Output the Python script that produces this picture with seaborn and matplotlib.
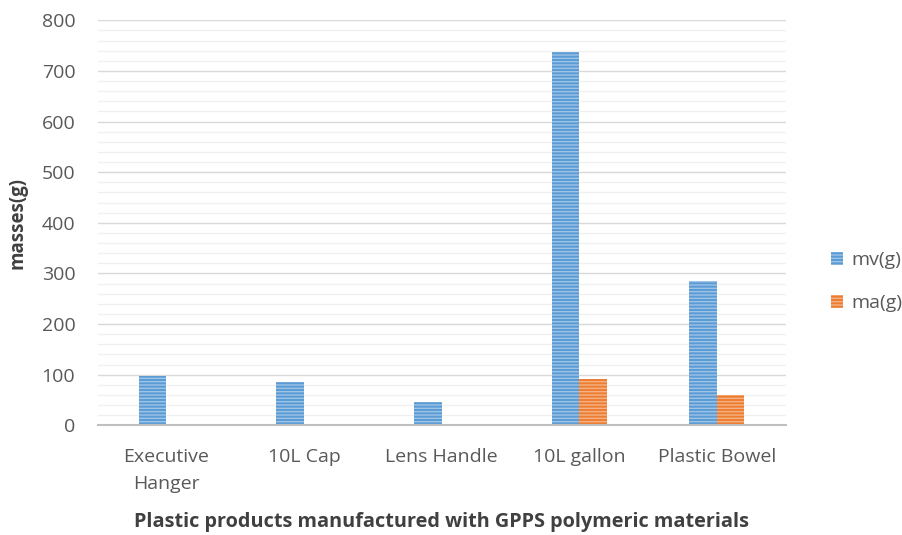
import matplotlib
matplotlib.use("Agg")
import matplotlib.pyplot as plt
import seaborn as sns
import pandas as pd
from matplotlib.ticker import MultipleLocator

# Product categories and measured masses (grams)
products = ["Executive\nHanger", "10L Cap", "Lens Handle", "10L gallon", "Plastic Bowel"]
mv_values = [98, 85, 47, 737, 285]
ma_values = [0, 0, 0, 91, 60]
series_names = ["mv(g)", "ma(g)"]

df = pd.DataFrame({
    "product": products * 2,
    "series": [series_names[0]] * len(products) + [series_names[1]] * len(products),
    "mass": mv_values + ma_values,
})

sns.set_theme(style="white")
plt.rcParams["font.family"] = ["Open Sans", "DejaVu Sans"]
plt.rcParams["hatch.linewidth"] = 1.0

fig, ax = plt.subplots(figsize=(9.03, 5.35), dpi=100)
fig.subplots_adjust(left=0.108, right=0.87, top=0.962, bottom=0.205)

palette = {"mv(g)": "#5B9BD5", "ma(g)": "#ED7D31"}
hatch_colors = {"mv(g)": "#9DC3E6", "ma(g)": "#F4B183"}

sns.barplot(data=df, x="product", y="mass", hue="series", palette=palette,
            width=0.4, ax=ax, saturation=1, legend=True)

for container, name in zip(ax.containers, series_names):
    for bar in container:
        bar.set_hatch("-----")
        bar.set_edgecolor(hatch_colors[name])
        bar.set_linewidth(0)

ax.set_ylim(0, 800)
ax.yaxis.set_major_locator(MultipleLocator(100))
ax.yaxis.set_minor_locator(MultipleLocator(20))
ax.grid(which="major", axis="y", color="#D9D9D9", linewidth=1.0)
ax.grid(which="minor", axis="y", color="#F0F0F0", linewidth=1.0)
ax.set_axisbelow(True)

for s in ["top", "right", "left"]:
    ax.spines[s].set_visible(False)
ax.spines["bottom"].set_color("#BFBFBF")
ax.spines["bottom"].set_linewidth(1.5)

ax.tick_params(axis="both", which="both", length=0, labelsize=14, colors="#595959")
ax.tick_params(axis="y", pad=16)
ax.tick_params(axis="x", pad=16)
ax.set_xticks(range(len(products)))
ax.set_xticklabels(products, linespacing=1.65)

ax.set_xlabel("Plastic products manufactured with GPPS polymeric materials",
              fontsize=14.3, fontweight="bold", color="#404040", labelpad=14)
ax.set_ylabel("masses(g)", fontsize=13.5, fontweight="bold", color="#404040", labelpad=10)

handles, labels = ax.get_legend_handles_labels()
for h, name in zip(handles, series_names):
    h.set_hatch("-----")
    h.set_edgecolor(hatch_colors[name])
    h.set_linewidth(0)
leg = ax.legend(handles, labels, loc="center left", bbox_to_anchor=(1.04, 0.355),
                frameon=False, fontsize=14, handlelength=0.65, handleheight=0.65,
                labelspacing=1.3, handletextpad=0.4)
for t in leg.get_texts():
    t.set_color("#595959")

fig.savefig("out.png", dpi=100)
